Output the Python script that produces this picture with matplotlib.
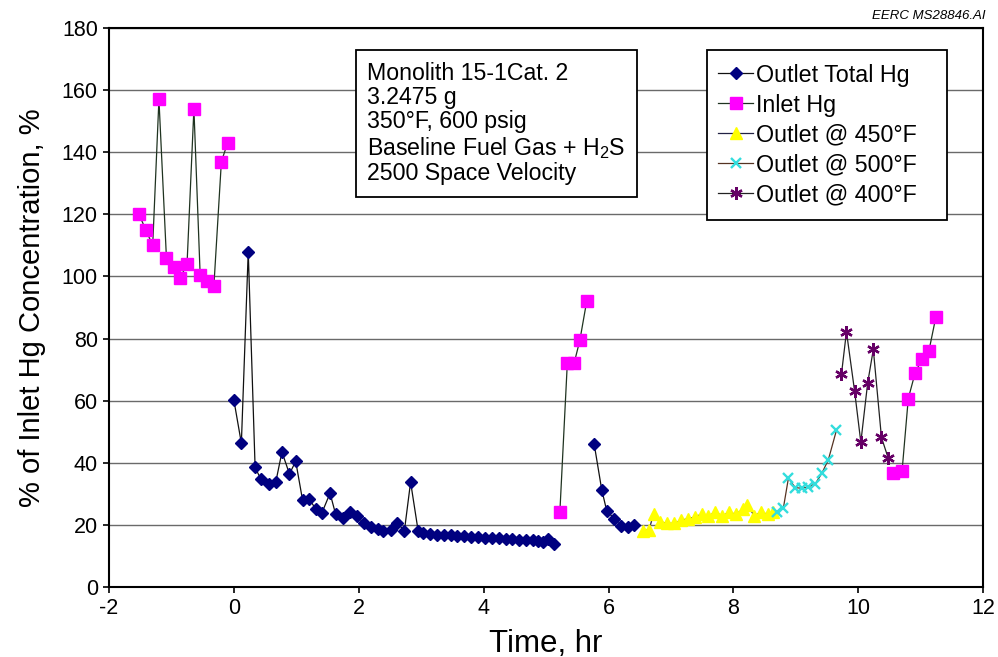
import numpy as np
import matplotlib
matplotlib.use("Agg")
import matplotlib.pyplot as plt
from matplotlib.lines import Line2D
from matplotlib.patches import Rectangle

plt.rcParams['font.family'] = ['Liberation Sans', 'DejaVu Sans']
plt.rcParams['mathtext.fontset'] = 'custom'
plt.rcParams['mathtext.rm'] = 'Liberation Sans'
plt.rcParams['mathtext.default'] = 'regular'
plt.rcParams['axes.unicode_minus'] = False

# ---- data ----
inlet_x1 = [-1.52, -1.41, -1.30, -1.20, -1.08, -0.96, -0.86, -0.75, -0.64, -0.54, -0.43, -0.32, -0.20, -0.10]
inlet_y1 = [120, 115, 110, 157, 106, 103, 99.5, 104, 154, 100.5, 98.5, 97, 137, 143]
inlet_x2 = [5.22, 5.34, 5.45, 5.54, 5.65]
inlet_y2 = [24, 72.2, 72.2, 79.4, 92]
inlet_x3 = [10.56, 10.70, 10.80, 10.91, 11.02, 11.13, 11.24]
inlet_y3 = [36.6, 37.3, 60.7, 69, 73.4, 76, 86.8]

outlet_x1 = [0.00, 0.12, 0.23, 0.34, 0.43, 0.56, 0.67, 0.77, 0.89, 0.99, 1.10, 1.21, 1.31, 1.41,
             1.54, 1.63, 1.75, 1.86, 1.97, 2.08, 2.19, 2.30, 2.39, 2.51, 2.62, 2.73, 2.83, 2.95,
             3.03, 3.14, 3.25, 3.36, 3.47, 3.58, 3.69, 3.80, 3.91, 4.02, 4.13, 4.24, 4.35, 4.46,
             4.57, 4.68, 4.79, 4.87, 4.95, 5.03, 5.12]
outlet_y1 = [60.2, 46.3, 108, 38.5, 34.8, 33.3, 33.7, 43.5, 36.4, 40.5, 28, 28.3, 25.1, 23.9,
             30.2, 23.4, 22.3, 24.1, 23, 20.5, 19.4, 18.7, 17.9, 18.4, 20.7, 18, 33.8, 18.2,
             17.5, 17.0, 16.8, 16.7, 16.6, 16.4, 16.3, 16.1, 16.0, 15.9, 15.8, 15.7, 15.5, 15.4,
             15.2, 15.1, 15.0, 14.8, 14.6, 15.4, 14.0]
outlet_x2 = [5.77, 5.89, 5.97, 6.09, 6.20, 6.31, 6.41]
outlet_y2 = [46, 31.4, 24.6, 22, 19.7, 19.4, 19.9]

o450_x = [6.55, 6.65, 6.72, 6.83, 6.94, 7.05, 7.16, 7.27, 7.38, 7.49, 7.60, 7.71,
          7.82, 7.93, 8.04, 8.15, 8.22, 8.33, 8.44, 8.55, 8.64]
o450_y = [18, 18.5, 23.5, 21, 20.5, 20.5, 21.5, 22, 22.5, 23.5, 23, 24,
          23, 24, 23.5, 25, 26.5, 23, 24, 23.5, 24]

o500_x = [8.69, 8.80, 8.88, 8.99, 9.10, 9.20, 9.31, 9.42, 9.52, 9.65]
o500_y = [24.3, 25.5, 35, 32, 31.8, 32.3, 33.2, 36.8, 41, 50.5]

o400_x = [9.73, 9.81, 9.94, 10.04, 10.15, 10.24, 10.37, 10.48]
o400_y = [68.6, 82.2, 63.1, 46.6, 65.8, 76.5, 48.2, 41.4]

x_ticks = [-2, 0, 2, 4, 6, 8, 10, 12]
y_ticks = [0, 20, 40, 60, 80, 100, 120, 140, 160, 180]

# ---- figure ----
fig = plt.figure(figsize=(9.98, 6.57), dpi=100)
ax = fig.add_axes([0.1092, 0.1065, 0.876, 0.8509])

lw = 0.9
inlet_style = dict(color='#1f3320', lw=lw, marker='s', ms=8, mfc='#ff00ff', mec='#ff00ff')
outlet_style = dict(color='#111111', lw=lw, marker='D', ms=6.5, mfc='#000080', mec='#000080')
s450 = dict(color='#222244', lw=lw, marker='^', ms=8, mfc='#ffff00', mec='#ffff00')
s500 = dict(color='#553322', lw=lw, marker='x', ms=7.5, mew=1.7, mfc='#33dddd', mec='#33dddd')
s400 = dict(color='#222222', lw=lw, marker=(6, 2, 0), ms=9, mew=1.7, mec='#660066')

ax.plot(outlet_x1, outlet_y1, zorder=3, **outlet_style)
ax.plot(outlet_x2, outlet_y2, zorder=3, **outlet_style)
ax.plot(inlet_x1, inlet_y1, zorder=3, **inlet_style)
ax.plot(inlet_x2, inlet_y2, zorder=3, **inlet_style)
ax.plot(inlet_x3, inlet_y3, zorder=3, **inlet_style)
ax.plot(o450_x, o450_y, zorder=3, **s450)
ax.plot(o500_x, o500_y, zorder=3, **s500)
ax.plot(o400_x, o400_y, zorder=3, **s400)

ax.set_xlim(-2, 12)
ax.set_ylim(0, 180)
ax.set_xticks(x_ticks)
ax.set_yticks(y_ticks)
ax.tick_params(axis='both', labelsize=15.5, direction='out', length=4, width=1.2, pad=4)
ax.yaxis.grid(True, color='#6a6a6a', lw=1.0)
ax.set_axisbelow(True)
for s in ax.spines.values():
    s.set_linewidth(1.5)
    s.set_color('black')

ax.set_xlabel('Time, hr', fontsize=22.5, labelpad=7)
ax.set_ylabel('% of Inlet Hg Concentration, %', fontsize=21, labelpad=11)

# annotation box
ax.text(0.2955, 0.94,
        'Monolith 15-1Cat. 2\n3.2475 g\n350°F, 600 psig\nBaseline Fuel Gas + H$_2$S\n2500 Space Velocity',
        transform=ax.transAxes, fontsize=16.7, va='top', ha='left', linespacing=1.08,
        bbox=dict(boxstyle='square,pad=0.5', fc='white', ec='black', lw=1.3), zorder=5)

# legend frame (drawn separately to match the wider box)
ax.add_patch(Rectangle((0.684, 0.6565), 0.2746, 0.304, transform=ax.transAxes,
                       fc='white', ec='black', lw=1.3, zorder=4))
handles = [
    Line2D([], [], **outlet_style),
    Line2D([], [], **inlet_style),
    Line2D([], [], **s450),
    Line2D([], [], **s500),
    Line2D([], [], **s400),
]
labels = ['Outlet Total Hg', 'Inlet Hg', 'Outlet @ 450°F', 'Outlet @ 500°F', 'Outlet @ 400°F']
leg = ax.legend(handles, labels, loc='upper left', bbox_to_anchor=(0.685, 0.955),
                fontsize=16.75, frameon=False,
                handlelength=1.5, handletextpad=0.1, borderpad=0.45, labelspacing=0.3,
                borderaxespad=0)
leg.set_zorder(5)

fig.text(0.987, 0.985, 'EERC MS28846.AI', fontsize=9.5, style='italic', ha='right', va='top')

fig.savefig('out.png', dpi=100, facecolor='white')
